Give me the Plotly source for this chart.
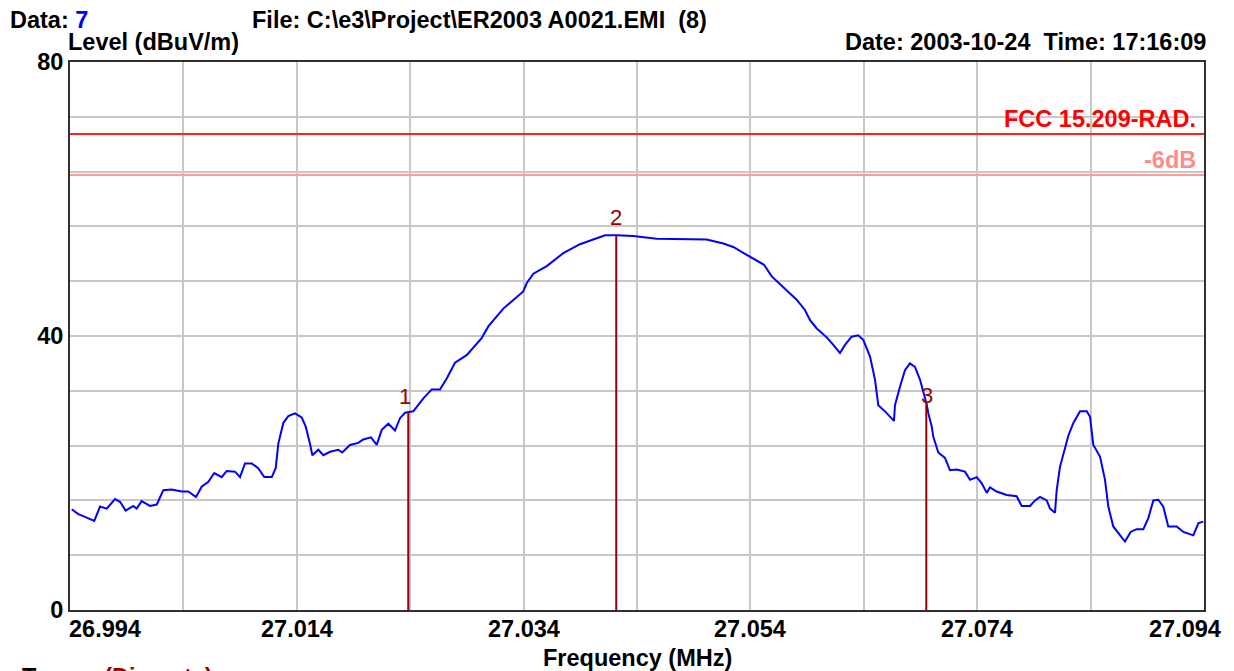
import plotly.graph_objects as go

# ---------------- data ----------------
freq_mhz = [
    26.99415, 26.99473, 26.99532, 26.99614, 26.99665, 26.99724, 26.99797, 26.99841, 26.99891, 26.99958,
    26.99988, 27.00032, 27.00105, 27.00165, 27.00223, 27.00297, 27.00385, 27.00443, 27.00511, 27.00561,
    27.00620, 27.00672, 27.00738, 27.00782, 27.00855, 27.00899, 27.00943, 27.01002, 27.01060, 27.01113,
    27.01179, 27.01214, 27.01237, 27.01281, 27.01325, 27.01384, 27.01443, 27.01478, 27.01516, 27.01537,
    27.01590, 27.01634, 27.01693, 27.01766, 27.01801, 27.01869, 27.01942, 27.01986, 27.02054, 27.02105,
    27.02149, 27.02207, 27.02266, 27.02310, 27.02354, 27.02427, 27.02516, 27.02590, 27.02663, 27.02722,
    27.02795, 27.02898, 27.03030, 27.03089, 27.03221, 27.03309, 27.03397, 27.03427, 27.03486, 27.03604,
    27.03750, 27.03897, 27.04015, 27.04118, 27.04221, 27.04367, 27.04574, 27.04867, 27.05015, 27.05161,
    27.05249, 27.05352, 27.05456, 27.05520, 27.05588, 27.05720, 27.05808, 27.05881, 27.05926, 27.05985,
    27.06073, 27.06131, 27.06190, 27.06234, 27.06293, 27.06351, 27.06396, 27.06455, 27.06499, 27.06528,
    27.06587, 27.06666, 27.06675, 27.06719, 27.06763, 27.06807, 27.06851, 27.06896, 27.06955, 27.06969,
    27.06999, 27.07013, 27.07057, 27.07116, 27.07160, 27.07219, 27.07292, 27.07337, 27.07396, 27.07440,
    27.07484, 27.07513, 27.07572, 27.07660, 27.07748, 27.07792, 27.07866, 27.07910, 27.07954, 27.08013,
    27.08042, 27.08086, 27.08101, 27.08130, 27.08174, 27.08203, 27.08248, 27.08307, 27.08366, 27.08395,
    27.08424, 27.08483, 27.08527, 27.08556, 27.08600, 27.08659, 27.08703, 27.08753, 27.08806, 27.08865,
    27.08909, 27.08953, 27.08997, 27.09041, 27.09085, 27.09159, 27.09218, 27.09306, 27.09351, 27.09394,
]
level_dbuv = [
    14.7, 14.0, 13.6, 13.0, 15.1, 14.8, 16.2, 15.8, 14.5, 15.2,
    14.8, 15.9, 15.2, 15.4, 17.5, 17.6, 17.3, 17.3, 16.5, 18.0,
    18.7, 20.0, 19.4, 20.3, 20.2, 19.4, 21.4, 21.4, 20.7, 19.4,
    19.4, 20.7, 24.3, 27.3, 28.3, 28.7, 28.1, 26.8, 24.3, 22.6,
    23.4, 22.6, 23.1, 23.4, 23.0, 24.1, 24.4, 24.9, 25.2, 24.1,
    26.3, 27.2, 26.2, 28.0, 28.8, 29.0, 30.9, 32.2, 32.2, 33.8,
    36.1, 37.2, 39.7, 41.4, 44.0, 45.3, 46.5, 47.7, 49.1, 50.2,
    52.1, 53.4, 54.1, 54.7, 54.7, 54.6, 54.2, 54.1, 54.1, 53.5,
    53.0, 52.0, 51.0, 50.4, 48.7, 46.7, 45.3, 43.8, 42.3, 41.1,
    39.8, 38.7, 37.5, 38.7, 39.9, 40.1, 39.4, 37.0, 33.6, 29.9,
    29.0, 27.6, 29.9, 32.6, 35.0, 36.0, 35.5, 33.6, 30.0, 28.7,
    26.8, 25.3, 23.0, 22.2, 20.4, 20.5, 20.2, 19.0, 19.4, 18.5,
    17.1, 17.9, 17.3, 16.8, 16.6, 15.2, 15.2, 16.0, 16.5, 16.0,
    14.8, 14.2, 17.5, 20.9, 23.8, 25.4, 27.3, 29.0, 29.0, 28.2,
    24.1, 22.4, 19.0, 15.1, 12.2, 10.9, 10.0, 11.4, 11.8, 11.8,
    13.4, 16.0, 16.1, 15.1, 12.2, 12.2, 11.4, 10.9, 12.7, 12.9,
]

marker_names = ["1", "2", "3"]
marker_freq = [27.02383, 27.04217, 27.06951]
marker_level = [28.9, 54.8, 30.0]

fcc_limit = 69.5
margin_6db = 63.5
limit_names = ["FCC 15.209-RAD.", "-6dB"]

x_range = [26.994, 27.094]
y_range = [0, 80]
x_tick_vals = [26.994, 27.014, 27.034, 27.054, 27.074, 27.094]
x_tick_text = ["26.994", "27.014", "27.034", "27.054", "27.074", "27.094"]
y_tick_vals = [0, 40, 80]
y_tick_text = ["0", "40", "80"]

# ---------------- layout constants ----------------
# the page body has an 8px margin, so the figure is shrunk and shifted to compensate
OFF = 8
PAGE_W, PAGE_H = 1234, 671
PL, PR, PT, PB = 70, 1204, 62, 610          # plot area in page pixels
W, H = PAGE_W - OFF, PAGE_H - OFF
ML, MT = PL - OFF, PT - OFF
MR, MB = W + OFF - PR, H + OFF - PB
PW, PH = PR - PL, PB - PT
FONT = "Liberation Sans, Arial, sans-serif"
FS = 23.5
GRID = "#c8c8c8"
MARK = "#990000"


def px(x, y):
    """page pixel position -> paper coordinates (for free text)"""
    return (x - PL) / PW, (PB - y) / PH


fig = go.Figure()

# limit lines
for lvl, col in [(fcc_limit, "#ff2020"), (margin_6db, "#ff9a9a")]:
    fig.add_trace(go.Scatter(x=x_range, y=[lvl, lvl], mode="lines",
                             line=dict(color=col, width=2), hoverinfo="skip"))

# measured trace
fig.add_trace(go.Scatter(x=freq_mhz, y=level_dbuv, mode="lines",
                         line=dict(color="#0000ff", width=2)))

# marker lines
mx, my = [], []
for f, l in zip(marker_freq, marker_level):
    mx += [f, f, None]
    my += [0, l, None]
fig.add_trace(go.Scatter(x=mx, y=my, mode="lines",
                         line=dict(color=MARK, width=2), hoverinfo="skip"))

annotations = []
label_shift = {"1": (-3, 16), "2": (0, 17), "3": (1, 9)}
for name, f, l in zip(marker_names, marker_freq, marker_level):
    dx, dy = label_shift[name]
    annotations.append(dict(x=f, y=l, xref="x", yref="y", text=name, showarrow=False,
                            xanchor="center", yanchor="middle", xshift=dx, yshift=dy,
                            font=dict(family=FONT, size=22, color=MARK)))

# limit labels
for lvl, name, col in [(fcc_limit, limit_names[0], "#ff0000"), (margin_6db, limit_names[1], "#ff8c8c")]:
    annotations.append(dict(x=px(1198, 0)[0], y=lvl, xref="paper", yref="y", text=name,
                            showarrow=False, xanchor="right", yanchor="bottom", yshift=0,
                            font=dict(family=FONT, size=FS, color=col, weight="bold")))

# x tick labels (end labels pulled inside like the original)
for i, (v, t) in enumerate(zip(x_tick_vals, x_tick_text)):
    if i == 0:
        anchor, dx = "left", -3
    elif i == len(x_tick_vals) - 1:
        anchor, dx = "right", 19
    else:
        anchor, dx = "center", 0
    annotations.append(dict(x=v, y=0, xref="x", yref="y", text=t,
                            showarrow=False, xanchor=anchor, yanchor="top", xshift=dx, yshift=-4,
                            font=dict(family=FONT, size=FS, color="black", weight="bold")))


# header / footer texts
def txt(x, y, text, xanchor="left", yanchor="middle", color="black"):
    xp, yp = px(x, y)
    annotations.append(dict(x=xp, y=yp, xref="paper", yref="paper", text=text, showarrow=False,
                            xanchor=xanchor, yanchor=yanchor,
                            font=dict(family=FONT, size=FS, color=color, weight="bold")))


txt(8, 20, "Data: <span style='color:#0000ff'>7</span>")
txt(250, 20, "File: C:\\e3\\Project\\ER2003 A0021.EMI  (8)")
txt(66, 42, "Level (dBuV/m)")
txt(1208, 42, "Date: 2003-10-24  Time: 17:16:09", xanchor="right")
txt(637, 658, "Frequency (MHz)", xanchor="center")
txt(20, 662, "Trace:  <span style='color:#990000'>(Discrete)</span>", yanchor="top")

fig.update_layout(
    width=W, height=H,
    margin=dict(l=ML, r=MR, t=MT, b=MB, pad=0),
    paper_bgcolor="white", plot_bgcolor="white",
    showlegend=False,
    font=dict(family=FONT, size=FS, color="black"),
    annotations=annotations,
    xaxis=dict(range=x_range, tickvals=x_tick_vals, showticklabels=False,
               showgrid=True, gridcolor=GRID, gridwidth=2,
               minor=dict(tick0=26.994, dtick=0.01, showgrid=True, gridcolor=GRID, gridwidth=2),
               showline=True, mirror=True, linecolor="#303030", linewidth=2,
               ticks="", zeroline=False),
    yaxis=dict(range=y_range, tickvals=y_tick_vals, ticktext=y_tick_text,
               showgrid=True, gridcolor=GRID, gridwidth=2,
               minor=dict(tick0=0, dtick=8, showgrid=True, gridcolor=GRID, gridwidth=2),
               showline=True, mirror=True, linecolor="#303030", linewidth=2,
               ticks="", zeroline=False, ticklabelstandoff=0,
               tickfont=dict(family=FONT, size=FS, color="black", weight="bold")),
)

fig.write_html("out.html")
